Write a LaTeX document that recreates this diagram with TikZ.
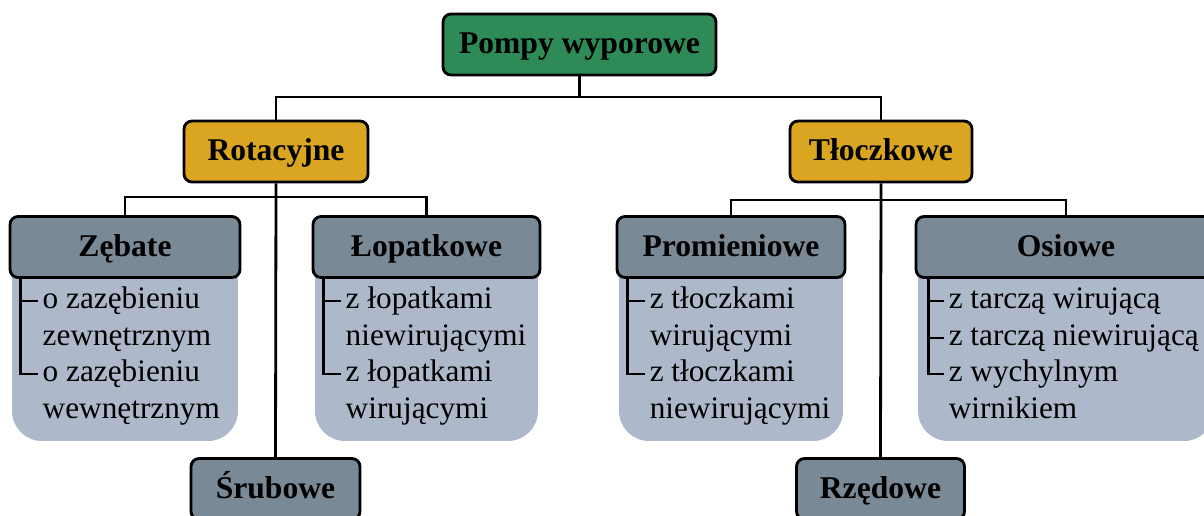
\documentclass[tikz,border=0pt]{standalone}
\usepackage{fontspec}
\setmainfont{Liberation Serif}
\definecolor{rootgreen}{RGB}{46,139,87}
\definecolor{groupgold}{RGB}{218,165,32}
\definecolor{kindgray}{RGB}{122,137,150}
\definecolor{listblue}{RGB}{173,185,202}
\tikzset{
  box/.style={draw=black, line width=1.6pt, rounded corners=0.16cm, minimum height=1.22cm,
    inner sep=0pt, text height=14pt, text depth=3.5pt, font=\fontsize{18}{21.6}\selectfont\bfseries},
  rootbox/.style={box, fill=rootgreen},
  groupbox/.style={box, fill=groupgold},
  kindbox/.style={box, fill=kindgray},
  listbox/.style={fill=listblue, rounded corners=0.6cm, minimum height=4.02cm, inner sep=0pt},
  item/.style={anchor=west, inner xsep=2.5pt, inner ysep=0pt, text height=12pt, text depth=4pt,
    font=\fontsize{17.8}{21.4}\selectfont},
  link/.style={line width=1.6pt}
}
\begin{document}
\begin{tikzpicture}[x=0.02cm, y=-0.02cm]
  \useasboundingbox (0,0) rectangle (1204,515);
  % list backgrounds
  \node[listbox, minimum width=4.52cm] (zlist) at (125,340.5) {};
  \node[listbox, minimum width=4.46cm] (llist) at (426.5,340.5) {};
  \node[listbox, minimum width=4.48cm] (plist) at (731,340.5) {};
  \node[listbox, minimum width=5.92cm] (olist) at (1066,340.5) {};
  % boxes
  \node[rootbox, minimum width=5.46cm] (root) at (579.5,44.5) {Pompy wyporowe};
  \node[groupbox, minimum width=3.68cm] (rot) at (276,151.5) {Rotacyjne};
  \node[groupbox, minimum width=3.64cm] (tlo) at (881,151.5) {Tłoczkowe};
  \node[kindbox, minimum width=4.6cm] (zhdr) at (125,247) {Zębate};
  \node[kindbox, minimum width=4.54cm] (lhdr) at (426.5,247) {Łopatkowe};
  \node[kindbox, minimum width=4.56cm] (phdr) at (731,247) {Promieniowe};
  \node[kindbox, minimum width=6.0cm] (ohdr) at (1066,247) {Osiowe};
  \node[kindbox, minimum width=3.38cm] (sru) at (275.5,489) {Śrubowe};
  \node[kindbox, minimum width=3.36cm] (rze) at (880.5,489) {Rzędowe};
  % tree links
  \coordinate (topbus) at (579.5,97);
  \coordinate (lbus) at (276,197);
  \coordinate (rbus) at (881,200);
  \draw[link] (root.south) -- (topbus);
  \draw[link] (rot.north) |- (topbus) -| (tlo.north);
  \draw[link] (rot.south) -- (sru.north);
  \draw[link] (tlo.south) -- (rze.north);
  \draw[link] (zhdr.north) |- (lbus) -| (lhdr.north);
  \draw[link] (phdr.north) |- (rbus) -| (ohdr.north);
  % list items
  \node[item] (z1) at (38,301) {o zazębieniu};
  \node[item] (z2) at (38,338) {zewnętrznym};
  \node[item] (z3) at (38,374) {o zazębieniu};
  \node[item] (z4) at (38,411) {wewnętrznym};
  \node[item] (l1) at (341,301) {z łopatkami};
  \node[item] (l2) at (341,338) {niewirującymi};
  \node[item] (l3) at (341,374) {z łopatkami};
  \node[item] (l4) at (341,411) {wirującymi};
  \node[item] (p1) at (645,301) {z tłoczkami};
  \node[item] (p2) at (645,338) {wirującymi};
  \node[item] (p3) at (645,374) {z tłoczkami};
  \node[item] (p4) at (645,411) {niewirującymi};
  \node[item] (o1) at (944,301) {z tarczą wirującą};
  \node[item] (o2) at (944,338) {z tarczą niewirującą};
  \node[item] (o3) at (944,374) {z wychylnym};
  \node[item] (o4) at (944,411) {wirnikiem};
  % brackets
  \draw[link] ([xshift=0.24cm]zhdr.south west) |- (z1.west);
  \draw[link] ([xshift=0.24cm]zhdr.south west) |- (z3.west);
  \draw[link] ([xshift=0.24cm]lhdr.south west) |- (l1.west);
  \draw[link] ([xshift=0.24cm]lhdr.south west) |- (l3.west);
  \draw[link] ([xshift=0.24cm]phdr.south west) |- (p1.west);
  \draw[link] ([xshift=0.24cm]phdr.south west) |- (p3.west);
  \draw[link] ([xshift=0.28cm]ohdr.south west) |- (o1.west);
  \draw[link] ([xshift=0.28cm]ohdr.south west) |- (o2.west);
  \draw[link] ([xshift=0.28cm]ohdr.south west) |- (o3.west);
\end{tikzpicture}
\end{document}
